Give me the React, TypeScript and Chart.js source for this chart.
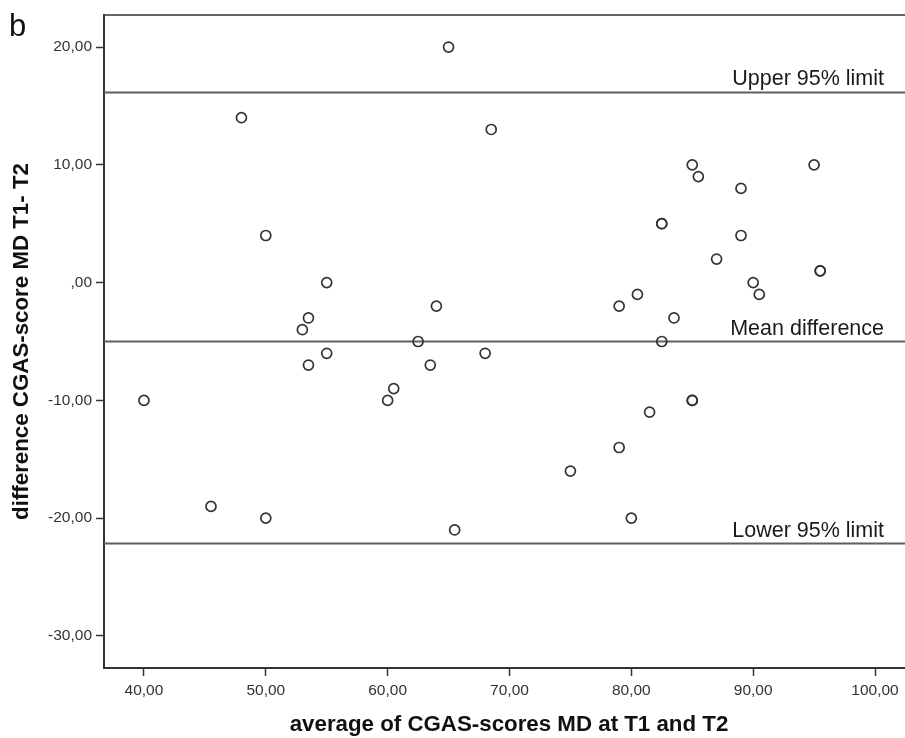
import React, { useEffect, useRef } from 'react';
import { Chart, registerables } from 'chart.js';

Chart.register(...registerables);

// ---- data ----
const avgScores = [
  65, 48, 68.5, 85, 85.5, 95, 89, 82.5, 82.5, 89, 50, 87, 55, 90, 95.5, 95.5,
  90.5, 80.5, 64, 79, 83.5, 53.5, 53, 62.5, 82.5, 55, 68, 53.5, 63.5, 60.5, 60,
  40, 85, 85, 81.5, 79, 75, 45.5, 50, 80, 65.5,
];
const diffScores = [
  20, 14, 13, 10, 9, 10, 8, 5, 5, 4, 4, 2, 0, 0, 1, 1,
  -1, -1, -2, -2, -3, -3, -4, -5, -5, -6, -6, -7, -7, -9, -10,
  -10, -10, -10, -11, -14, -16, -19, -20, -20, -21,
];
const refValues = [16.15, -5.0, -22.15];
const refLabels = ['Upper 95% limit', 'Mean difference', 'Lower 95% limit'];
const xMin = 36.72;
const xMax = 103.2;
const yMin = -32.72;
const yMax = 22.72;
const tickStep = 10;
const xTitle = 'average of CGAS-scores MD at T1 and T2';
const yTitle = 'difference CGAS-score MD T1- T2';
const panelLabel = 'b';

const FONT = '"Liberation Sans", Arial, sans-serif';

const fmt = (v: number) => (v === 0 ? ',00' : v.toFixed(2).replace('.', ','));

const annotPlugin = {
  id: 'annot',
  afterDatasetsDraw(chart: any) {
    const { ctx, chartArea, scales } = chart;
    ctx.save();
    ctx.fillStyle = '#1a1a1a';
    ctx.font = `21.5px ${FONT}`;
    ctx.textAlign = 'right';
    ctx.textBaseline = 'alphabetic';
    refValues.forEach((v, i) => {
      const y = scales.y.getPixelForValue(v);
      ctx.fillText(refLabels[i], chartArea.right - 30, y - 7);
    });
    ctx.restore();
  },
  afterDraw(chart: any) {
    const { ctx } = chart;
    ctx.save();
    ctx.fillStyle = '#111';
    ctx.font = `31px ${FONT}`;
    ctx.textAlign = 'left';
    ctx.textBaseline = 'alphabetic';
    ctx.fillText(panelLabel, 9, 36);
    ctx.restore();
  },
};

export default function App() {
  const ref = useRef<HTMLCanvasElement | null>(null);

  useEffect(() => {
    if (!ref.current) return;
    const points = avgScores.map((x, i) => ({ x, y: diffScores[i] }));
    const lineSets = refValues.map((v) => ({
      type: 'scatter' as const,
      data: [
        { x: xMin, y: v },
        { x: xMax, y: v },
      ],
      showLine: true,
      borderColor: '#5e5e5e',
      borderWidth: 2,
      pointRadius: 0,
      order: 1,
    }));
    const chart = new Chart(ref.current, {
      type: 'scatter',
      data: {
        datasets: [
          {
            data: points,
            pointRadius: 5,
            pointBorderWidth: 1.7,
            pointBorderColor: '#333',
            pointBackgroundColor: 'rgba(0,0,0,0)',
            order: 0,
          } as any,
          ...lineSets,
        ],
      },
      options: {
        animation: false,
        responsive: false,
        layout: { autoPadding: false, padding: { top: 15, left: 0, right: 0, bottom: 0 } },
        plugins: { legend: { display: false }, tooltip: { enabled: false } },
        scales: {
          x: {
            type: 'linear',
            position: 'bottom',
            min: xMin,
            max: xMax,
            ticks: {
              stepSize: tickStep,
              includeBounds: false,
              callback: (v: any) => fmt(Number(v)),
              font: { family: FONT, size: 15.5 },
              color: '#333',
              padding: 5,
              maxRotation: 0,
            },
            grid: {
              display: true,
              drawOnChartArea: false,
              drawTicks: true,
              tickLength: 8,
              tickColor: '#333',
              tickWidth: 1.5,
            },
            border: { display: true, color: '#333', width: 2 },
            title: {
              display: true,
              text: xTitle,
              font: { family: FONT, size: 22.3, weight: 'bold' },
              color: '#111',
              padding: { top: 0, bottom: 0 },
            },
            afterFit: (s: any) => {
              s.height = 70;
            },
          },
          x2: {
            type: 'linear',
            position: 'top',
            min: xMin,
            max: xMax,
            ticks: { display: false },
            grid: { display: false },
            border: { display: true, color: '#666', width: 2 },
            afterFit: (s: any) => {
              s.height = 0;
            },
          },
          y: {
            type: 'linear',
            position: 'left',
            min: yMin,
            max: yMax,
            ticks: {
              stepSize: tickStep,
              includeBounds: false,
              callback: (v: any) => fmt(Number(v)),
              font: { family: FONT, size: 15.5 },
              color: '#333',
              padding: 4,
            },
            grid: {
              display: true,
              drawOnChartArea: false,
              drawTicks: true,
              tickLength: 8,
              tickColor: '#333',
              tickWidth: 1.5,
            },
            border: { display: true, color: '#333', width: 2 },
            title: {
              display: true,
              text: yTitle,
              font: { family: FONT, size: 22.3, weight: 'bold' },
              color: '#111',
              padding: { top: 8, bottom: 0 },
            },
            afterFit: (s: any) => {
              s.width = 104;
            },
          },
        } as any,
      },
      plugins: [annotPlugin],
    });
    return () => chart.destroy();
  }, []);

  return (
    <div style={{ position: 'fixed', left: 0, top: 0, width: 905, height: 738, overflow: 'hidden', background: '#fff' }}>
      <canvas ref={ref} width={914} height={738} style={{ display: 'block' }} />
    </div>
  );
}
